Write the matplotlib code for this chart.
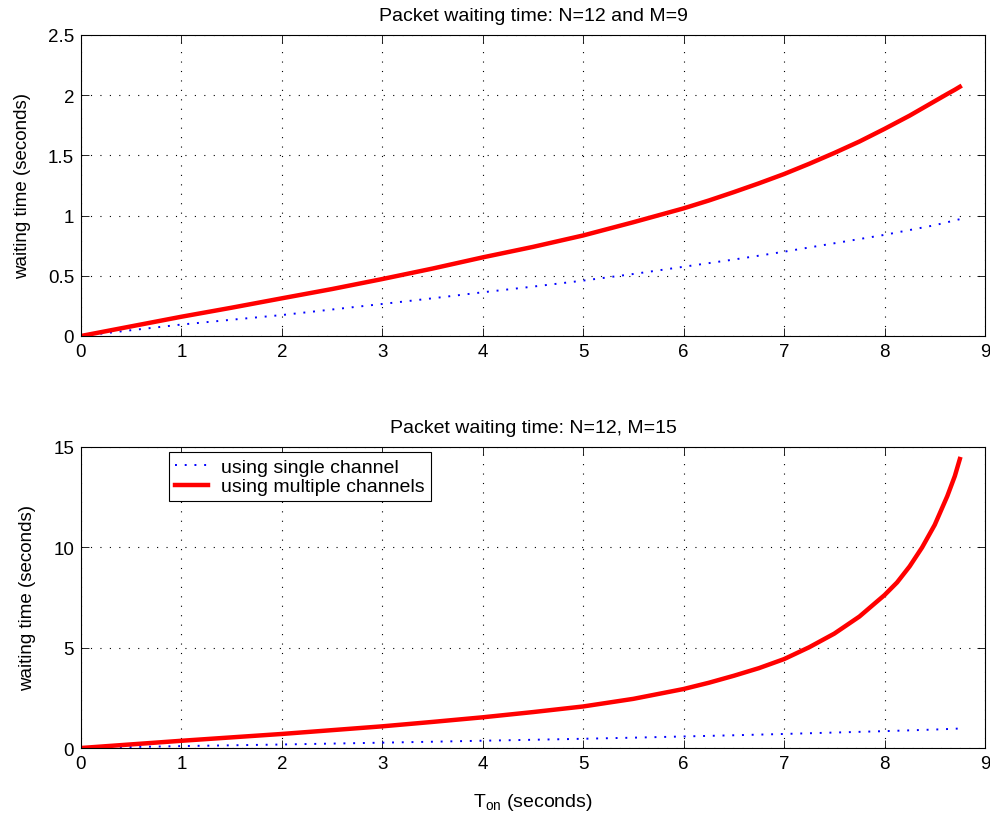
import numpy as np
import matplotlib
matplotlib.use("Agg")
import matplotlib.pyplot as plt

plt.rcParams['font.family'] = ['Liberation Sans', 'DejaVu Sans']
plt.rcParams['mathtext.fontset'] = 'custom'
plt.rcParams['mathtext.rm'] = 'Liberation Sans'
plt.rcParams['mathtext.it'] = 'Liberation Sans'

# T_on values (seconds)
t_on = [0, 0.5, 1, 1.5, 2, 2.5, 3, 3.5, 4, 4.5, 5, 5.5, 6, 6.25, 6.5, 6.75, 7,
        7.25, 7.5, 7.75, 8, 8.125, 8.25, 8.375, 8.5, 8.625, 8.7, 8.75]

# single channel (same in both panels)
single = [0, 0.048, 0.095, 0.135, 0.174, 0.22, 0.266, 0.313, 0.363, 0.41, 0.46,
          0.515, 0.575, 0.605, 0.635, 0.667, 0.70, 0.735, 0.77, 0.805, 0.84,
          0.86, 0.88, 0.90, 0.92, 0.945, 0.96, 0.97]

# multiple channels, N=12 M=9
multi_m9 = [0, 0.08, 0.16, 0.235, 0.313, 0.39, 0.473, 0.56, 0.653, 0.74, 0.835,
            0.945, 1.06, 1.125, 1.195, 1.268, 1.345, 1.43, 1.52, 1.615, 1.72,
            1.775, 1.83, 1.89, 1.95, 2.01, 2.045, 2.07]

# multiple channels, N=12 M=15
multi_m15 = [0, 0.18, 0.36, 0.53, 0.70, 0.89, 1.08, 1.3, 1.53, 1.79, 2.07,
             2.45, 2.94, 3.25, 3.6, 3.98, 4.43, 5.02, 5.7, 6.55, 7.62, 8.25,
             9.05, 10.0, 11.12, 12.55, 13.55, 14.4]

fig = plt.figure(figsize=(9.9, 8.29), dpi=100)
ax1 = fig.add_axes([0.0818, 0.5935, 0.9131, 0.3631])
ax2 = fig.add_axes([0.0818, 0.0965, 0.9131, 0.3631])


def style(ax, ymax, yticks):
    ax.set_xlim(0, 9)
    ax.set_ylim(0, ymax)
    ax.set_xticks(range(10))
    ax.set_yticks(yticks)
    ax.grid(True, linestyle=(0, (1, 7.5)), color='black', linewidth=0.8)
    ax.tick_params(direction='in', top=True, right=True, length=6,
                   width=0.6, labelsize=13.5, pad=5)
    for s in ax.spines.values():
        s.set_linewidth(0.8)
    ax.set_ylabel('waiting time (seconds)', fontsize=13.5, labelpad=12)


ax1.plot(t_on, single, color='blue', linestyle=(0, (1, 4)), linewidth=1.4)
ax1.plot(t_on, multi_m9, color='red', linewidth=3.2)
style(ax1, 2.5, [0, 0.5, 1, 1.5, 2, 2.5])
ax1.set_yticklabels(['0', '0.5', '1', '1.5', '2', '2.5'])
ax1.set_title('Packet waiting time: N=12 and M=9', fontsize=14, pad=11)

ax2.plot(t_on, single, color='blue', linestyle=(0, (1, 4)), linewidth=1.4,
         label='using single channel')
ax2.plot(t_on, multi_m15, color='red', linewidth=3.2,
         label='using multiple channels')
style(ax2, 15, [0, 5, 10, 15])
ax2.set_title('Packet waiting time: N=12, M=15', fontsize=14, pad=11)
ax2.set_xlabel(r'T$_{\rm on}$ (seconds)', fontsize=14, labelpad=14)

leg = ax2.legend(loc='upper left', bbox_to_anchor=(0.097, 0.982),
                 borderaxespad=0, fontsize=14, fancybox=False, framealpha=1,
                 edgecolor='black', handlelength=1.7, handletextpad=0.7,
                 borderpad=0.3, labelspacing=0.1)
leg.get_frame().set_linewidth(0.8)

fig.savefig('out.png', dpi=100)
